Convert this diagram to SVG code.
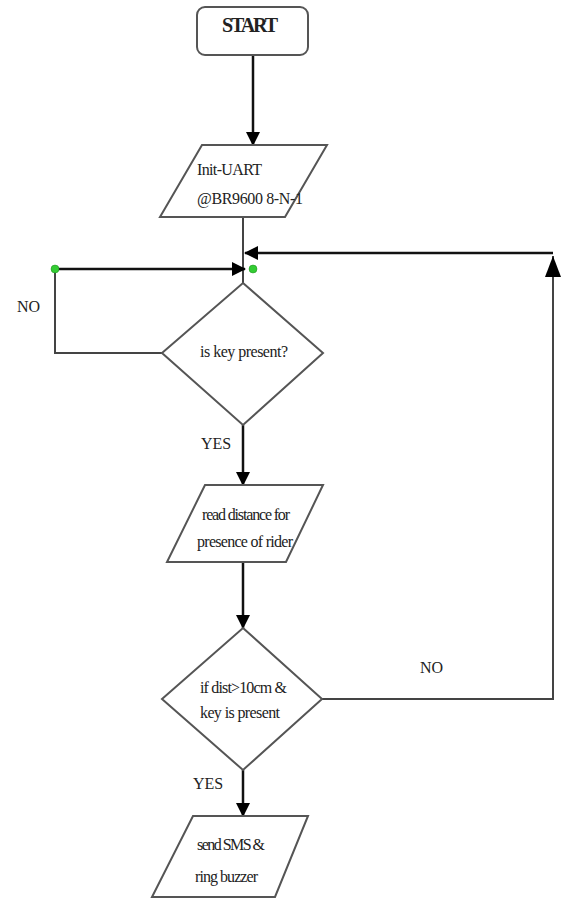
<svg xmlns="http://www.w3.org/2000/svg" width="561" height="899" viewBox="0 0 561 899">
<style>
.shape{fill:#fff;stroke:#555;stroke-width:2}
.flow{fill:none;stroke:#111;stroke-width:2.5}
.loop{fill:none;stroke:#444;stroke-width:2}
text{font-family:'Liberation Serif','DejaVu Serif','Times New Roman',serif;font-size:16px;fill:#222}
.dot{fill:#33cc33;stroke:#1a8a1a;stroke-width:0.5}
</style>
<defs>
<marker id="ah" markerWidth="14" markerHeight="18" refX="13" refY="7" orient="auto" markerUnits="userSpaceOnUse" viewBox="0 0 14 14">
<path d="M0,0 L14,7 L0,14 Z" fill="#000"/>
</marker>
</defs>
<rect width="561" height="899" fill="#fff"/>
<g id="connectors">
<path class="flow" d="M253,55 V145" marker-end="url(#ah)"/>
<path class="loop" d="M243,217 V283"/>
<path class="loop" d="M162,353 H55 V269"/>
<path class="flow" d="M55,269 H245" marker-end="url(#ah)"/>
<path class="flow" d="M243,425 V485" marker-end="url(#ah)"/>
<path class="flow" d="M243,562 V628" marker-end="url(#ah)"/>
<path class="flow" d="M243,770 V816" marker-end="url(#ah)"/>
<path class="loop" d="M322,699 H553 V256"/>
<path d="M553,256 L545,277 L561,277 Z" fill="#000"/>
<path class="flow" d="M553,253 H245" marker-end="url(#ah)"/>
<circle class="dot" cx="55" cy="269" r="4"/>
<circle class="dot" cx="253" cy="269" r="4"/>
<text x="17" y="312">NO</text>
<text x="201" y="449">YES</text>
<text x="420" y="673">NO</text>
<text x="193" y="789">YES</text>
</g>
<g id="start">
<rect class="shape" x="197" y="7" width="111" height="48" rx="8"/>
<text x="250" y="32" text-anchor="middle" style="font-size:20px;font-weight:bold" textLength="56">START</text>
</g>
<g id="init">
<path class="shape" d="M202,145 H327 L285,217 H160 Z"/>
<text x="197" y="175" textLength="65">Init-UART</text>
<text x="197" y="204" textLength="106">@BR9600 8-N-1</text>
</g>
<g id="keycheck">
<path class="shape" d="M243,283 L323,353 L243,425 L162,353 Z"/>
<text x="200" y="357" textLength="88">is key present?</text>
</g>
<g id="readdist">
<path class="shape" d="M205,485 H323 L286,562 H167 Z"/>
<text x="202" y="520" textLength="88">read distance for</text>
<text x="197" y="547" textLength="96">presence of rider</text>
</g>
<g id="distcheck">
<path class="shape" d="M243,628 L322,699 L243,770 L162,699 Z"/>
<text x="200" y="693" textLength="87">if dist&gt;10cm &amp;</text>
<text x="200" y="718" textLength="80">key is present</text>
</g>
<g id="sendsms">
<path class="shape" d="M193,816 H308 L275,897 H152 Z"/>
<text x="197" y="850" textLength="68">send SMS &amp;</text>
<text x="195" y="882" textLength="63">ring buzzer</text>
</g>
</svg>
